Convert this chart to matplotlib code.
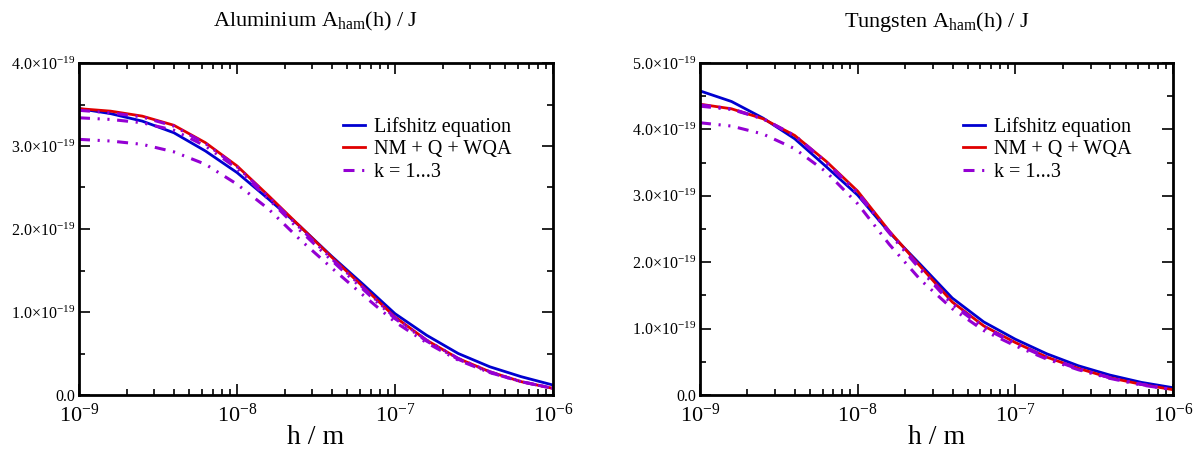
import matplotlib
matplotlib.use("Agg")
import matplotlib.pyplot as plt
from matplotlib.ticker import FixedLocator, LogLocator, NullFormatter

plt.rcParams['font.family'] = ['Liberation Serif', 'DejaVu Serif']
plt.rcParams['mathtext.fontset'] = 'custom'
plt.rcParams['mathtext.rm'] = 'Liberation Serif'
plt.rcParams['mathtext.it'] = 'Liberation Serif:italic'

# separations h / m (log steps of 0.2)
h = [1.0e-9, 1.585e-9, 2.512e-9, 3.981e-9, 6.310e-9, 1.0e-8, 1.585e-8, 2.512e-8,
     3.981e-8, 6.310e-8, 1.0e-7, 1.585e-7, 2.512e-7, 3.981e-7, 6.310e-7, 1.0e-6]

# Aluminium, A_ham in units of 1e-19 J
al_lifshitz = [3.45, 3.39, 3.30, 3.16, 2.94, 2.68, 2.36, 2.03, 1.67, 1.33, 0.98, 0.72, 0.50, 0.34, 0.22, 0.12]
al_nmqwqa   = [3.45, 3.42, 3.36, 3.25, 3.04, 2.76, 2.40, 2.03, 1.66, 1.30, 0.94, 0.66, 0.44, 0.28, 0.16, 0.08]
al_k1       = [3.08, 3.06, 3.02, 2.93, 2.78, 2.54, 2.24, 1.87, 1.53, 1.20, 0.88, 0.63, 0.42, 0.27, 0.16, 0.08]
al_k2       = [3.34, 3.32, 3.28, 3.19, 3.00, 2.73, 2.36, 1.98, 1.62, 1.27, 0.92, 0.65, 0.43, 0.27, 0.16, 0.08]
al_k3       = [3.43, 3.40, 3.35, 3.24, 3.03, 2.75, 2.39, 2.01, 1.64, 1.29, 0.93, 0.66, 0.44, 0.28, 0.16, 0.08]

# Tungsten
w_lifshitz = [4.58, 4.42, 4.17, 3.86, 3.44, 3.01, 2.45, 1.96, 1.46, 1.10, 0.84, 0.62, 0.44, 0.30, 0.19, 0.11]
w_nmqwqa   = [4.38, 4.31, 4.16, 3.91, 3.52, 3.07, 2.47, 1.93, 1.40, 1.04, 0.79, 0.57, 0.40, 0.26, 0.16, 0.08]
w_k1       = [4.10, 4.05, 3.93, 3.71, 3.36, 2.88, 2.27, 1.73, 1.30, 0.97, 0.74, 0.54, 0.38, 0.25, 0.15, 0.08]
w_k2       = [4.35, 4.30, 4.16, 3.90, 3.50, 3.03, 2.44, 1.88, 1.36, 1.01, 0.77, 0.56, 0.39, 0.26, 0.16, 0.08]
w_k3       = [4.37, 4.31, 4.16, 3.91, 3.51, 3.05, 2.46, 1.91, 1.38, 1.03, 0.78, 0.57, 0.40, 0.26, 0.16, 0.08]

blue = '#0000d0'
red = '#e00000'
violet = '#9400d3'
dashdotdot = (0, (3.6, 2.5, 0.7, 2.5, 0.7, 2.5))


def panel(ax, title, lif, nm, ks, ymax):
    ax.plot(h, [v * 1e-19 for v in lif], color=blue, lw=2, label='Lifshitz equation')
    ax.plot(h, [v * 1e-19 for v in nm], color=red, lw=2, label='NM + Q + WQA')
    for i, k in enumerate(ks):
        ax.plot(h, [v * 1e-19 for v in k], color=violet, lw=2.2, linestyle=dashdotdot,
                label='k = 1...3' if i == 0 else None)
    ax.set_xscale('log')
    ax.set_xlim(1e-9, 1e-6)
    ax.set_ylim(0, ymax * 1e-19)
    majors = [i * 1e-19 for i in range(int(ymax) + 1)]
    ax.yaxis.set_major_locator(FixedLocator(majors))
    ax.yaxis.set_minor_locator(FixedLocator([(i + 0.5) * 1e-19 for i in range(int(ymax))]))
    ax.set_yticklabels(['0.0'] + [r'$%d.0{\times}10^{-19}$' % i for i in range(1, int(ymax) + 1)])
    ax.xaxis.set_major_locator(FixedLocator([1e-9, 1e-8, 1e-7, 1e-6]))
    ax.set_xticklabels([r'$10^{-9}$', r'$10^{-8}$', r'$10^{-7}$', r'$10^{-6}$'])
    ax.xaxis.set_minor_locator(LogLocator(base=10, subs=range(2, 10)))
    ax.xaxis.set_minor_formatter(NullFormatter())
    ax.tick_params(which='both', direction='in', top=True, right=True, width=1.2)
    ax.tick_params(which='major', length=8)
    ax.tick_params(which='minor', length=4)
    ax.tick_params(axis='y', labelsize=11.5, pad=3)
    ax.tick_params(axis='x', labelsize=16, pad=6)
    for s in ax.spines.values():
        s.set_linewidth(2)
    ax.set_xlabel('h / m', fontsize=20, labelpad=-1)
    ax.set_title(title, fontsize=16, pad=26)
    ax.legend(loc='upper right', bbox_to_anchor=(0.912, 0.838), frameon=False, fontsize=14.5,
              handlelength=1.1, handletextpad=0.45, labelspacing=0.17,
              borderpad=0, borderaxespad=0)


fig = plt.figure(figsize=(11.94, 4.53), dpi=100)
ax1 = fig.add_axes([79 / 1194, 58 / 453, 474 / 1194, 332 / 453])
ax2 = fig.add_axes([700 / 1194, 58 / 453, 473 / 1194, 332 / 453])

panel(ax1, r'Aluminium A$_{\mathrm{ham}}$(h) / J', al_lifshitz, al_nmqwqa, [al_k1, al_k2, al_k3], 4)
panel(ax2, r'Tungsten A$_{\mathrm{ham}}$(h) / J', w_lifshitz, w_nmqwqa, [w_k1, w_k2, w_k3], 5)

fig.savefig('out.png', dpi=100)
